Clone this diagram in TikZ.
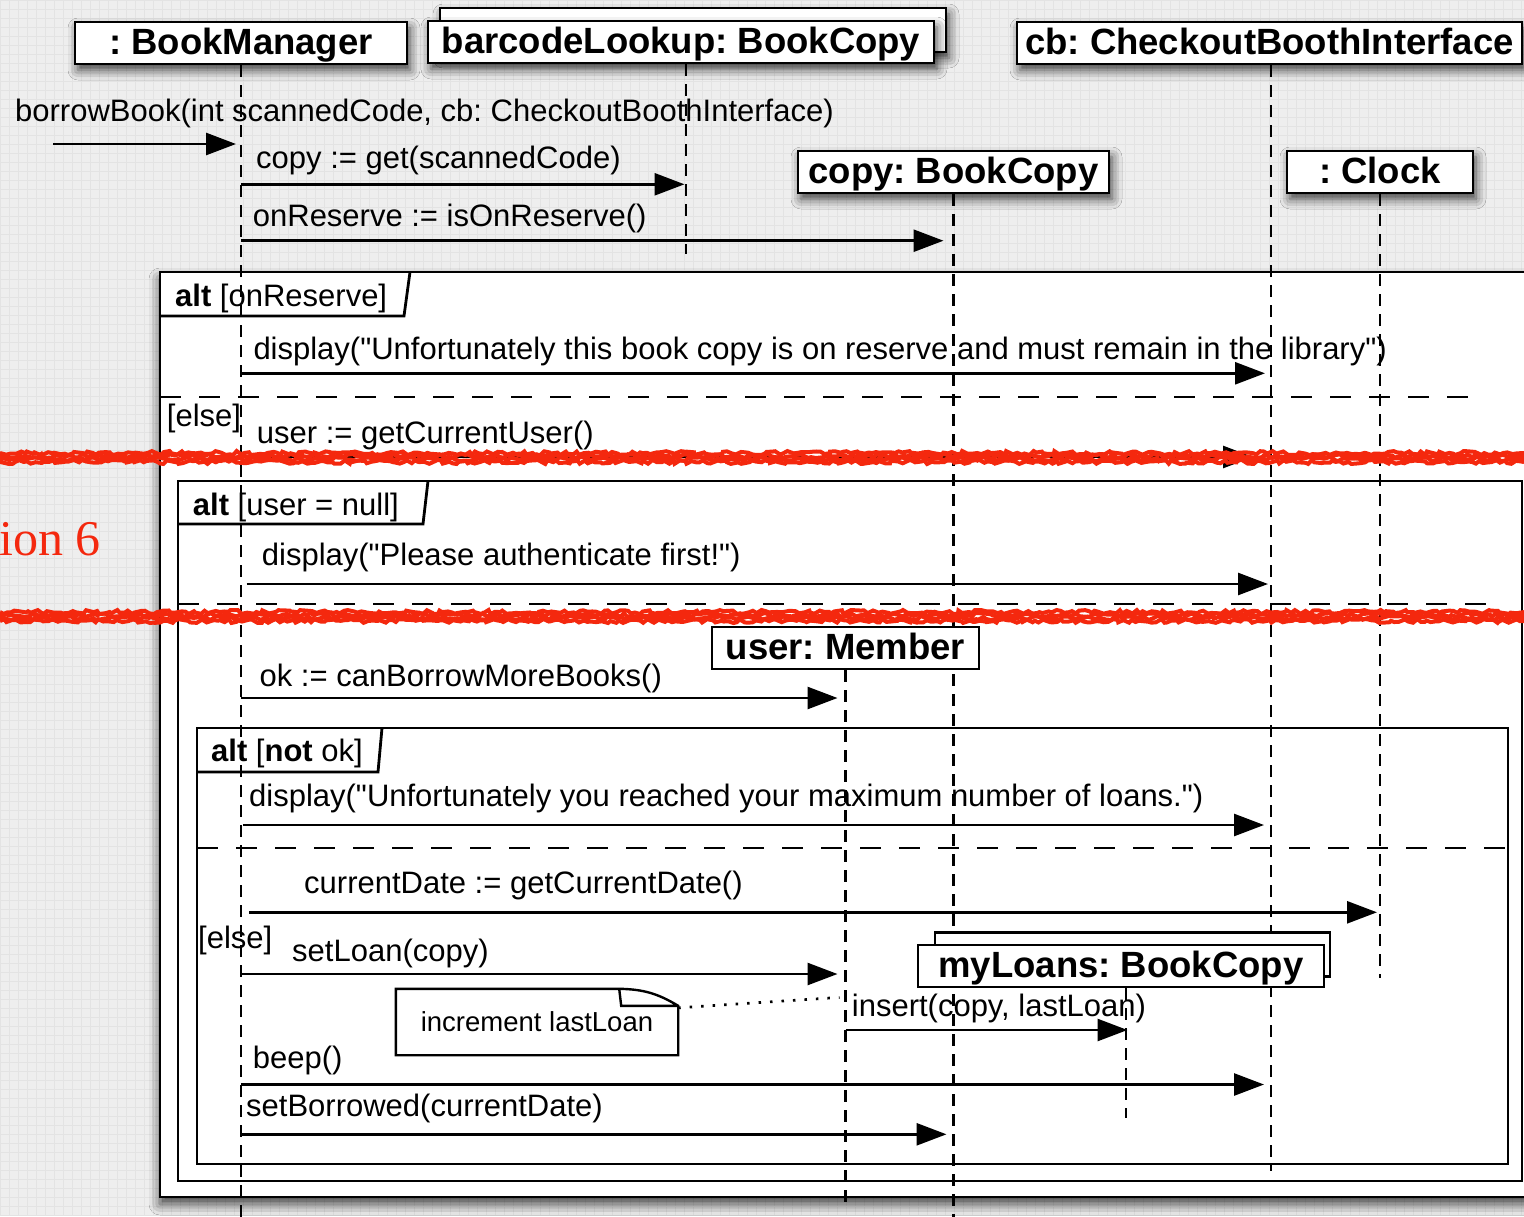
\documentclass[tikz,border=0pt]{standalone}
\usepackage{fontspec}
\setmainfont{Liberation Sans}[Ligatures=TeXOff]
\newfontfamily\serifred{Liberation Serif}
\usetikzlibrary{arrows.meta,shadows.blur,decorations.pathmorphing}
\definecolor{paper}{HTML}{EEEEEE}
\definecolor{papergrid}{HTML}{E3E3E3}
\definecolor{penred}{HTML}{F4280E}
\frenchspacing

\begin{document}
\begin{tikzpicture}[x=1pt,y=-1pt,
  head/.style={draw,line width=2.8pt,fill=white,font=\fontsize{36.5}{44}\selectfont\bfseries,inner xsep=0pt,inner ysep=4pt,text height=28pt,text depth=6pt},
  boxshadow/.style={blur shadow={shadow xshift=3pt,shadow yshift=-6pt,shadow blur radius=10pt,shadow opacity=75}},
  life/.style={line width=2.7pt,dash pattern=on 12pt off 8pt},
  msg/.style={line width=2.7pt,-{Triangle[length=30pt,width=22pt,fill=black]}},
  lbl/.style={anchor=base west,inner sep=0pt,font=\fontsize{31}{37}\selectfont},
  frm/.style={line width=2.8pt},
  divider/.style={line width=2.6pt,dash pattern=on 21pt off 18pt},
  strike/.style={penred,line width=4pt,decorate,decoration={random steps,segment length=4pt,amplitude=2pt}}]
  \useasboundingbox (0,0) rectangle (1524,1216);
  \clip (0,0) rectangle (1524,1216);
  \fill[paper] (0,0) rectangle (1524,1216);
  \draw[papergrid,line width=0.4pt,step=9pt] (0,0) grid (1524,1216);

  \draw[frm,fill=white,blur shadow={shadow xshift=0pt,shadow yshift=-7pt,shadow blur radius=11pt,shadow opacity=75}] (160,272) rectangle (1550,1197);
  \draw[frm] (160,316) -- (404,316) -- (410,272);
  \draw[divider] (160,397) -- (1471,397);
  \draw[frm] (178,481) rectangle (1522,1181);
  \draw[frm] (178,524) -- (423,524) -- (428,481);
  \draw[divider] (178,604) -- (1488,604);
  \draw[frm] (197,728) rectangle (1508,1164);
  \draw[frm] (197,772) -- (378,772) -- (382,728);
  \draw[divider] (197,848) -- (1508,848);

  \node[lbl] (alt1) at (175,306.7) {\textbf{alt} [onReserve]};
  \node[lbl] (else1) at (166.7,426.7) {[else]};
  \node[lbl] (alt2) at (192.7,515) {\textbf{alt} [user = null]};
  \node[lbl] (alt3) at (211,761.7) {\textbf{alt} [\textbf{not} ok]};
  \node[lbl] (else3) at (198,948) {[else]};

  \node[head,minimum width=506pt,minimum height=44pt,boxshadow] (blback) at (693,30) {};
  \node[head,minimum width=506pt,boxshadow] (bl) at (681,42) {barcodeLookup: BookCopy};
  \node[head,minimum width=332pt,boxshadow] (bm) at (241,43) {: BookManager};
  \node[head,minimum width=505pt,boxshadow] (cb) at (1269.5,43) {cb: CheckoutBoothInterface};
  \node[head,minimum width=311pt,boxshadow] (cp) at (953.5,172) {copy: BookCopy};
  \node[head,minimum width=186pt,boxshadow] (clk) at (1380,172) {: Clock};

  \coordinate (bmL) at (bm.south);
  \coordinate (blL) at ([xshift=5pt]bl.south);
  \coordinate (cbL) at ([xshift=1.5pt]cb.south);
  \coordinate (cpL) at (cp.south);
  \coordinate (clkL) at (clk.south);
  \draw[life] (bmL) -- ++(0,1152);
  \draw[life] (blL) -- ++(0,190);
  \draw[life] (cbL) -- ++(0,1106);
  \draw[life] (cpL) -- ++(0,1023);
  \draw[life] (clkL) -- ++(0,784);

  \node[head,minimum width=267pt] (usr) at (845.5,648) {user: Member};
  \node[head,minimum width=395pt,minimum height=44pt] (mlback) at (1132.5,954.5) {};
  \node[head,minimum width=406pt] (ml) at (1121,966) {myLoans: BookCopy};
  \coordinate (usrL) at (usr.south);
  \coordinate (mlL) at ([xshift=5pt]ml.south);
  \draw[life] (usrL) -- ++(0,534);
  \draw[life] (mlL) -- ++(0,130);

  \coordinate (src) at (53,144);
  \node[lbl] (m0) at (15,121.7) {borrowBook(int scannedCode, cb: CheckoutBoothInterface)};
  \draw[msg,shorten >=5pt] (src) -- (bmL |- src);

  \node[lbl] (m1) at (256,168.3) {copy := get(scannedCode)};
  \coordinate (r1) at (0,184.3);
  \draw[msg,shorten >=1.5pt] (bmL |- r1) -- (blL |- r1);

  \node[lbl] (m2) at (252.7,226.7) {onReserve := isOnReserve()};
  \coordinate (r2) at (0,240.7);
  \draw[msg,shorten >=10pt] (bmL |- r2) -- (cpL |- r2);

  \node[lbl] (m3) at (253.3,359) {display("Unfortunately this book copy is on reserve and must remain in the library")};
  \coordinate (r3) at (0,373.3);
  \draw[msg,shorten >=6pt] (bmL |- r3) -- (cbL |- r3);

  \node[lbl] (m4) at (256.7,443.3) {user := getCurrentUser()};
  \coordinate (r4) at (0,457);
  \draw[msg,shorten >=18pt] (bmL |- r4) -- (cbL |- r4);

  \node[lbl] (m5) at (261.7,565) {display("Please authenticate first!")};
  \coordinate (r5) at (0,584);
  \draw[msg,shorten <=5.5pt,shorten >=3pt] (bmL |- r5) -- (cbL |- r5);

  \node[lbl] (m6) at (259.4,686.7) {ok := canBorrowMoreBooks()};
  \coordinate (r6) at (0,698);
  \draw[msg,shorten >=8pt] (bmL |- r6) -- (usrL |- r6);

  \node[lbl] (m7) at (249,806.7) {display("Unfortunately you reached your maximum number of loans.")};
  \coordinate (r7) at (0,825);
  \draw[msg,shorten <=2pt,shorten >=7pt] (bmL |- r7) -- (cbL |- r7);

  \node[lbl] (m8) at (304,893) {currentDate := getCurrentDate()};
  \coordinate (r8) at (0,912.3);
  \draw[msg,shorten <=8pt,shorten >=3pt] (bmL |- r8) -- (clkL |- r8);

  \node[lbl] (m9) at (292,961) {setLoan(copy)};
  \coordinate (r9) at (0,974);
  \draw[msg,shorten >=8pt] (bmL |- r9) -- (usrL |- r9);

  \node[inner sep=0pt,minimum width=282pt,minimum height=66pt,font=\fontsize{27.5}{33}\selectfont] (note) at (537,1022) {increment lastLoan};
  \draw[line width=2.4pt] ([xshift=-59pt]note.north east) -- (note.north west) -- (note.south west) -- (note.south east) -- ([yshift=-17pt]note.north east) to[bend right=15] ([xshift=-59pt]note.north east) -- ([xshift=-57pt,yshift=-17pt]note.north east) -- ([yshift=-17pt]note.north east);
  \coordinate (nt) at (0,997);
  \draw[line width=2.7pt,dash pattern=on 2.5pt off 9pt,shorten >=6pt] ([yshift=-19pt]note.north east) -- (usrL |- nt);

  \node[lbl] (m10) at (851.7,1016.7) {insert(copy, lastLoan)};
  \coordinate (r10) at (0,1030);
  \draw[msg,shorten >=-1.5pt] (usrL |- r10) -- (mlL |- r10);

  \node[lbl] (m11) at (252.7,1068) {beep()};
  \coordinate (r11) at (0,1084.5);
  \draw[msg,shorten >=7pt] (bmL |- r11) -- (cbL |- r11);

  \node[lbl] (m12) at (246,1116.7) {setBorrowed(currentDate)};
  \coordinate (r12) at (0,1134.3);
  \draw[msg,shorten >=7pt] (bmL |- r12) -- (cpL |- r12);

  \node[anchor=base west,inner sep=0pt,font=\serifred\fontsize{50}{60}\selectfont,text=penred] (ver) at (-1,555) {ion 6};
  \foreach \sy in {453,456,459,462} \draw[strike] (0,\sy) -- (1524,\sy);
  \foreach \sy in {612,615,618,621} \draw[strike] (0,\sy) -- (1524,\sy);
\end{tikzpicture}
\end{document}
